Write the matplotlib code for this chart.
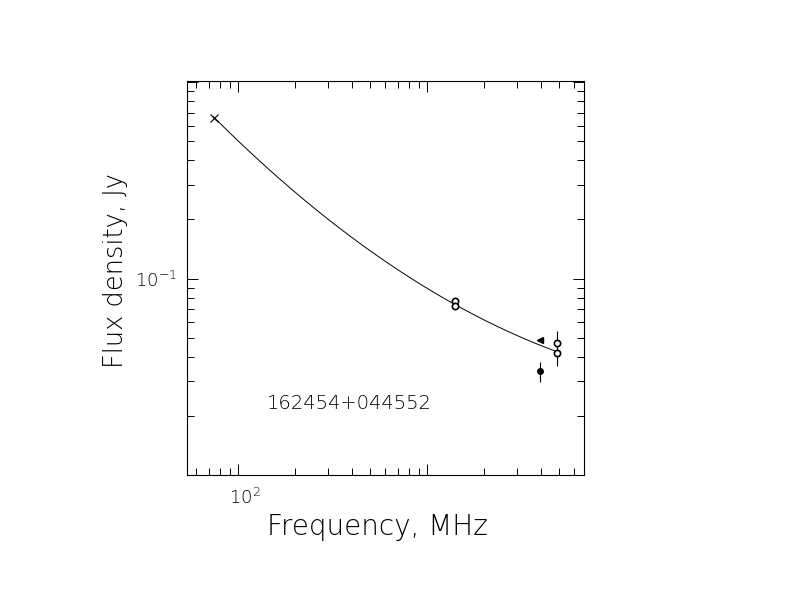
"""Radio spectrum of 162454+044552, log-log."""

import numpy as np
import matplotlib
matplotlib.use("Agg")
import matplotlib.pyplot as plt
import matplotlib.transforms as mtransforms
from matplotlib.ticker import FixedLocator, FixedFormatter, NullFormatter, LogLocator

plt.rcParams['font.family'] = ['DejaVu Sans']
plt.rcParams['mathtext.default'] = 'regular'

# measurements (MHz, Jy)
vlss_freq = [74]
vlss_flux = [0.658]

nvss_freq = [1400, 1400]
nvss_flux = [0.0766, 0.0723]
nvss_err = [0.0025, 0.0025]

gb6_freq = [4850, 4850]
gb6_flux = [0.0469, 0.0419]
gb6_err = [0.0069, 0.0060]

pmn_freq = [3950]
pmn_flux = [0.0338]
pmn_err = [0.0039]

lim_freq = [3950]
lim_flux = [0.0489]

# points
fit_freq = [73.8, 104.6, 166.2, 374.6, 843.4, 1401, 2851, 4838]
fit_flux = [0.659, 0.498, 0.317, 0.163, 0.102, 0.074, 0.0524, 0.0422]

fig = plt.figure(figsize=(7.92, 6.12), dpi=100)
ax = fig.add_axes([0.2357, 0.2239, 0.502, 0.6438])

coef = np.polyfit(np.log10(fit_freq), np.log10(fit_flux), 2)
xx = np.linspace(np.log10(fit_freq[0]), np.log10(fit_freq[-1]), 200)
ax.plot(10**xx, 10**np.polyval(coef, xx), color='black', lw=0.7)

ax.plot(vlss_freq, vlss_flux, 'x', color='black', ms=6, mew=0.8)
ax.errorbar(nvss_freq, nvss_flux, yerr=nvss_err, fmt='o', mfc='white', mec='black',
            ecolor='black', ms=4.5, mew=1.2, elinewidth=0.8, capsize=0)
ax.errorbar(gb6_freq, gb6_flux, yerr=gb6_err, fmt='o', mfc='white', mec='black',
            ecolor='black', ms=4.5, mew=1.2, elinewidth=0.8, capsize=0)
ax.errorbar(pmn_freq, pmn_flux, yerr=pmn_err, fmt='o', color='black',
            ms=4, elinewidth=0.8, capsize=0)
ax.plot(lim_freq, lim_flux, '<', color='black', ms=5)

ax.set_xscale('log')
ax.set_yscale('log')
ax.set_xlim(53.3, 6780)
ax.set_ylim(0.01, 1.015)

ax.xaxis.set_major_locator(FixedLocator([100, 1000]))
ax.xaxis.set_major_formatter(FixedFormatter(['$10^{2}$', '']))
ax.xaxis.set_minor_locator(LogLocator(base=10, subs=np.arange(2, 10)))
ax.xaxis.set_minor_formatter(NullFormatter())
ax.yaxis.set_major_locator(FixedLocator([0.01, 0.1, 1]))
ax.yaxis.set_major_formatter(FixedFormatter(['', '$10^{-1}$', '']))
ax.yaxis.set_minor_locator(LogLocator(base=10, subs=np.arange(2, 10)))
ax.yaxis.set_minor_formatter(NullFormatter())

ax.tick_params(which='both', direction='in', top=True, right=True, width=0.7,
               labelsize=13, color='black')
ax.tick_params(which='major', length=8)
ax.tick_params(which='minor', length=5)
ax.tick_params(axis='x', which='major', pad=9)
ax.tick_params(axis='y', which='major', pad=7)
for s in ax.spines.values():
    s.set_linewidth(0.8)

# the 10^2 label sits a little right of its tick in the original
shift = mtransforms.ScaledTranslation(7 / 100, 0, fig.dpi_scale_trans)
for lab in ax.get_xticklabels() + ax.get_yticklabels():
    lab.set_fontweight('light')
for lab in ax.get_xticklabels():
    lab.set_transform(lab.get_transform() + shift)

fig.text(377 / 792, 1 - 527 / 612, 'Frequency, MHz', fontsize=20, fontweight='light',
         ha='center', va='center')
fig.text(115 / 792, 1 - 270 / 612, 'Flux density, Jy', fontsize=18.5, fontweight='light',
         ha='center', va='center', rotation=90)
ax.text(0.201, 0.1667, '162454+044552', transform=ax.transAxes, fontsize=14,
        fontweight='light', ha='left', va='baseline')

fig.savefig('out.png', dpi=100)
